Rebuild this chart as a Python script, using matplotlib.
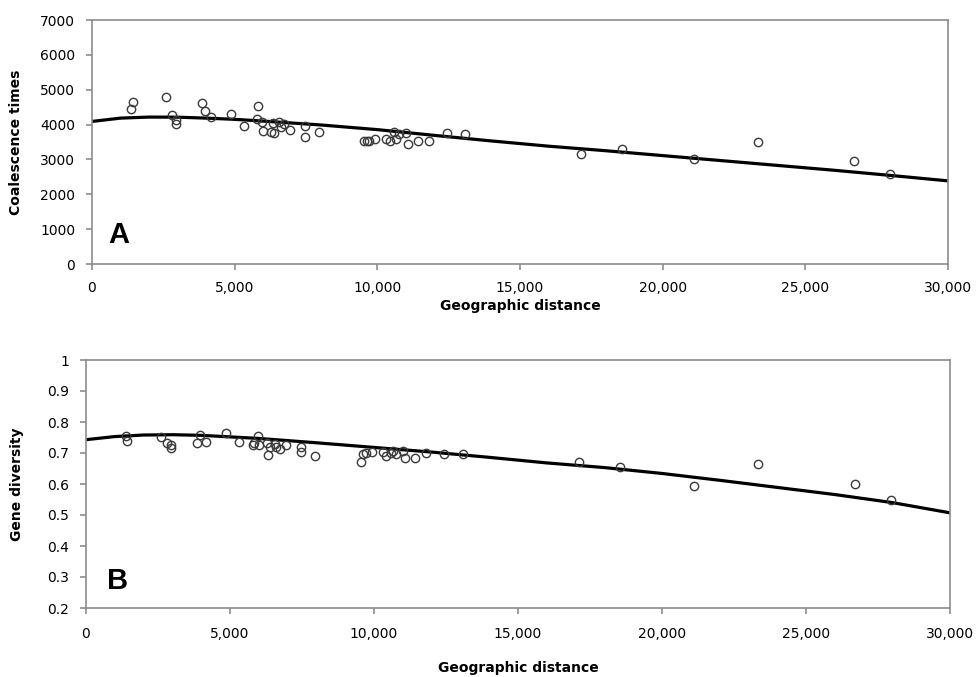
import numpy as np
import matplotlib
matplotlib.use("Agg")
import matplotlib.pyplot as plt
from matplotlib.ticker import FuncFormatter

# ---- data ----
distance = [1377, 1426, 2604, 2804, 2954, 2954, 3866, 3950, 4160, 4871,
            5317, 5783, 5828, 5958, 6004, 6284, 6333, 6379, 6554, 6613,
            6729, 6939, 7454, 7454, 7945, 9533, 9627, 9708, 9918, 10304,
            10433, 10591, 10665, 10749, 11022, 11092, 11436, 11804, 12431, 13083,
            17121, 18558, 21098, 23341, 26695, 27957]

coalescence = [4438, 4656, 4800, 4266, 4131, 4008, 4628, 4389, 4209, 4303,
               3950, 4151, 4533, 4065, 3824, 3787, 4037, 3750, 4082, 3921,
               4008, 3844, 3950, 3635, 3778, 3537, 3543, 3537, 3580, 3580,
               3534, 3778, 3577, 3721, 3767, 3437, 3543, 3543, 3750, 3738,
               3156, 3308, 3021, 3491, 2963, 2582]

diversity = [0.755, 0.740, 0.753, 0.731, 0.727, 0.715, 0.733, 0.757, 0.735, 0.765,
             0.735, 0.726, 0.733, 0.755, 0.725, 0.731, 0.693, 0.720, 0.728, 0.718,
             0.713, 0.726, 0.702, 0.718, 0.691, 0.672, 0.696, 0.701, 0.702, 0.702,
             0.691, 0.699, 0.707, 0.697, 0.705, 0.685, 0.685, 0.701, 0.696, 0.696,
             0.670, 0.656, 0.594, 0.665, 0.599, 0.548]

# trend curves
trend_x = [0, 1000, 2000, 3000, 4000, 5000, 6000, 8000, 10000, 12000, 14000,
           16000, 18000, 20000, 22000, 24000, 26000, 28000, 30000]
trend_coalescence = [4090, 4185, 4215, 4212, 4185, 4150, 4100, 3990, 3855, 3690, 3530,
                     3380, 3250, 3110, 2970, 2830, 2690, 2540, 2385]
trend_diversity = [0.743, 0.753, 0.758, 0.759, 0.757, 0.752, 0.747, 0.733, 0.718, 0.703,
                   0.686, 0.668, 0.653, 0.634, 0.612, 0.589, 0.566, 0.540, 0.507]

x_ticks = [0, 5000, 10000, 15000, 20000, 25000, 30000]
top_yticks = [0, 1000, 2000, 3000, 4000, 5000, 6000, 7000]
bot_yticks = [0.2, 0.3, 0.4, 0.5, 0.6, 0.7, 0.8, 0.9, 1.0]

W, H = 977, 677
fig = plt.figure(figsize=(W / 100, H / 100), dpi=100)

def frac(l, t, r, b):
    return [l / W, 1 - b / H, (r - l) / W, (b - t) / H]

ax1 = fig.add_axes(frac(92, 20, 948, 264))
ax2 = fig.add_axes(frac(86, 360, 950, 608))

spine_col = "#8c8c8c"

def style(ax, yticks, yfmt, ylabel, letter, xpad, xlabelpad, ylab_x, let_xy):
    for s in ax.spines.values():
        s.set_color(spine_col)
        s.set_linewidth(1.2)
    ax.set_xlim(0, 30000)
    ax.set_xticks(x_ticks)
    ax.xaxis.set_major_formatter(FuncFormatter(lambda v, p: f"{int(v):,}"))
    ax.set_yticks(yticks)
    ax.yaxis.set_major_formatter(FuncFormatter(yfmt))
    ax.tick_params(axis="both", direction="out", length=4, width=1.2,
                   color=spine_col, labelsize=10, labelcolor="black")
    ax.tick_params(axis="x", pad=xpad)
    ax.tick_params(axis="y", pad=8)
    ax.set_xlabel("Geographic distance", fontsize=10, fontweight="bold",
                  labelpad=xlabelpad)
    ax.set_ylabel(ylabel, fontsize=10, fontweight="bold")
    ax.yaxis.set_label_coords(ylab_x, 0.5)
    ax.text(let_xy[0], let_xy[1], letter, transform=ax.transAxes, fontsize=21,
            fontweight="bold", family="Liberation Sans", ha="center", va="center")

# top panel
ax1.plot(trend_x, trend_coalescence, color="black", lw=2.3, zorder=2,
         solid_joinstyle="round")
ax1.plot(distance, coalescence, "o", mfc="none", mec="#3a3a3a", ms=6, mew=1.0, zorder=3)
ax1.set_ylim(0, 7000)
style(ax1, top_yticks, lambda v, p: f"{int(v)}", "Coalescence times", "A", 8, 3,
      -0.0806, (0.0315, 0.119))

# bottom panel
ax2.plot(trend_x, trend_diversity, color="black", lw=2.3, zorder=2,
         solid_joinstyle="round")
ax2.plot(distance, diversity, "o", mfc="none", mec="#3a3a3a", ms=6, mew=1.0, zorder=3)
ax2.set_ylim(0.2, 1.0)
style(ax2, bot_yticks, lambda v, p: f"{v:g}", "Gene diversity", "B", 10, 14,
      -0.0718, (0.037, 0.109))

fig.savefig("out.png", dpi=100)
